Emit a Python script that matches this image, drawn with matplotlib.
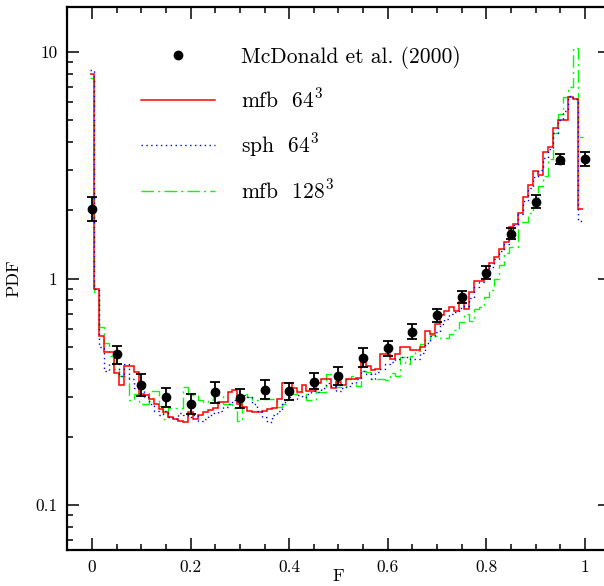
import numpy as np
import matplotlib.pyplot as plt
from matplotlib.ticker import FixedLocator, FixedFormatter, MultipleLocator, LogLocator, NullFormatter

plt.rcParams["font.family"] = "cmr10"
plt.rcParams["mathtext.fontset"] = "cm"
plt.rcParams["axes.formatter.use_mathtext"] = True

# flux bin centres shared by the three simulated PDFs (dF = 0.01)
flux = np.arange(100) * 0.01

pdf_mfb64 = [
    8.0, 0.90, 0.555, 0.473, 0.473, 0.382, 0.34, 0.409, 0.409, 0.386,
    0.31, 0.305, 0.294, 0.28, 0.266, 0.257, 0.244, 0.24, 0.236, 0.232,
    0.257, 0.24, 0.25, 0.257, 0.262, 0.267, 0.286, 0.286, 0.315, 0.322,
    0.28, 0.27, 0.26, 0.257, 0.257, 0.26, 0.265, 0.267, 0.295, 0.344,
    0.344, 0.33, 0.315, 0.34, 0.32, 0.32, 0.344, 0.36, 0.36, 0.33,
    0.348, 0.34, 0.361, 0.361, 0.365, 0.45, 0.413, 0.395, 0.40, 0.462,
    0.462, 0.44, 0.465, 0.497, 0.497, 0.485, 0.485, 0.50, 0.589, 0.57,
    0.627, 0.687, 0.718, 0.746, 0.718, 0.786, 0.73, 0.87, 0.98, 0.98,
    1.055, 1.168, 1.24, 1.35, 1.445, 1.685, 1.74, 1.94, 2.30, 2.60,
    2.97, 2.87, 3.61, 3.80, 4.61, 5.03, 4.99, 6.30, 6.20, 2.03,
]

pdf_sph64 = [
    8.3, 0.90, 0.50, 0.39, 0.42, 0.43, 0.37, 0.42, 0.36, 0.33,
    0.34, 0.30, 0.28, 0.26, 0.25, 0.26, 0.245, 0.24, 0.255, 0.25,
    0.245, 0.25, 0.235, 0.24, 0.25, 0.255, 0.26, 0.27, 0.28, 0.29,
    0.30, 0.305, 0.30, 0.28, 0.26, 0.245, 0.232, 0.25, 0.26, 0.285,
    0.30, 0.295, 0.305, 0.30, 0.31, 0.32, 0.315, 0.33, 0.345, 0.335,
    0.32, 0.33, 0.335, 0.345, 0.36, 0.39, 0.38, 0.36, 0.385, 0.40,
    0.42, 0.43, 0.44, 0.45, 0.45, 0.44, 0.44, 0.47, 0.52, 0.56,
    0.58, 0.63, 0.66, 0.70, 0.71, 0.74, 0.76, 0.82, 0.92, 0.97,
    1.04, 1.12, 1.22, 1.32, 1.42, 1.60, 1.72, 1.92, 2.20, 2.50,
    2.80, 3.00, 3.40, 3.75, 4.40, 5.00, 5.50, 6.40, 6.20, 1.80,
]

pdf_mfb128 = [
    7.7, 0.87, 0.61, 0.52, 0.457, 0.40, 0.37, 0.37, 0.29, 0.31,
    0.28, 0.28, 0.32, 0.32, 0.275, 0.24, 0.267, 0.267, 0.267, 0.331,
    0.305, 0.305, 0.291, 0.285, 0.29, 0.305, 0.305, 0.28, 0.28, 0.267,
    0.236, 0.31, 0.30, 0.29, 0.29, 0.295, 0.295, 0.295, 0.27, 0.28,
    0.31, 0.31, 0.315, 0.315, 0.29, 0.29, 0.315, 0.315, 0.379, 0.37,
    0.331, 0.331, 0.36, 0.373, 0.337, 0.39, 0.386, 0.361, 0.361, 0.361,
    0.355, 0.382, 0.373, 0.45, 0.42, 0.453, 0.48, 0.515, 0.542, 0.566,
    0.555, 0.547, 0.547, 0.57, 0.59, 0.64, 0.70, 0.65, 0.735, 0.75,
    0.827, 0.89, 1.0, 1.15, 1.29, 1.375, 1.375, 1.77, 1.77, 1.94,
    2.2, 2.57, 2.83, 3.37, 4.39, 5.33, 6.36, 7.04, 10.4, 4.2,
]

# McDonald et al. (2000) observed flux PDF with error range
obs_flux = [0.0, 0.05, 0.10, 0.15, 0.20, 0.25, 0.30, 0.35, 0.40, 0.45, 0.50,
            0.55, 0.60, 0.65, 0.70, 0.75, 0.80, 0.85, 0.90, 0.95, 1.0]
obs_pdf = [2.02, 0.462, 0.340, 0.299, 0.279, 0.315, 0.296, 0.323, 0.319, 0.350, 0.372,
           0.448, 0.492, 0.583, 0.687, 0.827, 1.06, 1.57, 2.17, 3.34, 3.38]
obs_lo = [1.80, 0.420, 0.304, 0.272, 0.253, 0.281, 0.269, 0.295, 0.292, 0.324, 0.340,
          0.405, 0.457, 0.542, 0.641, 0.776, 1.00, 1.49, 2.04, 3.19, 3.13]
obs_hi = [2.28, 0.506, 0.377, 0.330, 0.308, 0.348, 0.324, 0.355, 0.347, 0.381, 0.405,
          0.491, 0.532, 0.629, 0.730, 0.885, 1.14, 1.67, 2.33, 3.53, 3.61]

edges = np.append(flux - 0.005, flux[-1] + 0.005)

fig = plt.figure(figsize=(6.04, 5.86), dpi=100)
ax = fig.add_axes([0.1115, 0.0609, 0.8978, 0.9276])

ax.stairs(pdf_mfb128, edges, baseline=None, color="#00ff00", lw=1.0,
          ls=(0, (9, 3, 1.5, 3)), label=r"mfb  128$^3$", zorder=2)
ax.stairs(pdf_mfb64, edges, baseline=None, color="#ff0000", lw=1.1,
          label=r"mfb  64$^3$", zorder=3)
ax.stairs(pdf_sph64, edges, baseline=None, color="#0000ff", lw=1.0,
          ls=(0, (1, 2.5)), label=r"sph  64$^3$", zorder=4)

obs_pdf = np.array(obs_pdf)
yerr = [obs_pdf - np.array(obs_lo), np.array(obs_hi) - obs_pdf]
ax.errorbar(obs_flux, obs_pdf, yerr=yerr, fmt="none", ecolor="black",
            elinewidth=1.3, capsize=3.5, capthick=1.3, zorder=5)
ax.plot(obs_flux, obs_pdf, "o", color="black", ms=6,
        label="McDonald et al. (2000)", zorder=6)

ax.set_yscale("log")
ax.set_xlim(-0.05, 1.05)
ax.set_ylim(10 ** -1.2, 10 ** 1.2)

ax.xaxis.set_major_locator(FixedLocator([0, 0.2, 0.4, 0.6, 0.8, 1.0]))
ax.xaxis.set_major_formatter(FixedFormatter(["0", "0.2", "0.4", "0.6", "0.8", "1"]))
ax.xaxis.set_minor_locator(MultipleLocator(0.05))
ax.yaxis.set_major_locator(FixedLocator([0.1, 1, 10]))
ax.yaxis.set_major_formatter(FixedFormatter(["0.1", "1", "10"]))
ax.yaxis.set_minor_locator(LogLocator(base=10, subs=np.arange(2, 10)))
ax.yaxis.set_minor_formatter(NullFormatter())

ax.tick_params(which="both", direction="in", top=True, right=True,
               width=1.1, labelsize=12.5)
ax.tick_params(which="major", length=8.5, pad=7)
ax.tick_params(which="minor", length=4.3)
for side in ax.spines.values():
    side.set_linewidth(1.6)

ax.set_xlabel("F", fontsize=13, labelpad=-5)
ax.set_ylabel("PDF", fontsize=13, labelpad=10)

handles, labels = ax.get_legend_handles_labels()
order = [3, 1, 2, 0]
ax.legend([handles[i] for i in order], [labels[i] for i in order],
          loc="upper left", bbox_to_anchor=(0.136, 0.928), frameon=False,
          fontsize=15.5, borderpad=0, borderaxespad=0, handlelength=3.44,
          handletextpad=1.2, labelspacing=0.9, numpoints=1)

fig.savefig("out.png", dpi=100)
plt.close(fig)
